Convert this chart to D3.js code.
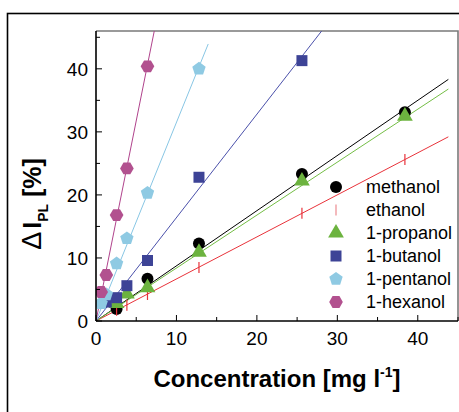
<!DOCTYPE html>
<html>
<head>
<meta charset="utf-8">
<script src="https://cdn.jsdelivr.net/npm/d3@7"></script>
<style>
  html, body { margin: 0; padding: 0; background: #fff; }
  svg { display: block; }
  text { font-family: "Liberation Sans", Arial, Helvetica, sans-serif; }
</style>
</head>
<body>
<svg id="chart" width="459" height="412"></svg>
<script>
// ---- data ----
const seriesNames = ["methanol", "ethanol", "1-propanol", "1-butanol", "1-pentanol", "1-hexanol"];
const methanolX = [2.56, 6.4, 12.8, 25.6, 38.4];
const methanolY = [1.9, 6.7, 12.3, 23.3, 33.1];
const ethanolX = [2.56, 3.84, 6.4, 12.8, 25.6, 38.4];
const ethanolY = [1.7, 2.5, 4.2, 8.5, 17.1, 25.6];
const propanolX = [2.56, 3.84, 6.4, 12.8, 25.6, 38.4];
const propanolY = [2.8, 4.3, 5.3, 10.9, 22.2, 32.5];
const butanolX = [1.28, 2.56, 3.84, 6.4, 12.8, 25.6];
const butanolY = [3.0, 3.7, 5.6, 9.6, 22.8, 41.3];
const pentanolX = [0.64, 1.28, 2.56, 3.84, 6.4, 12.8];
const pentanolY = [2.8, 4.2, 9.1, 13.1, 20.3, 40.0];
const hexanolX = [0.64, 1.28, 2.56, 3.84, 6.4];
const hexanolY = [4.6, 7.3, 16.8, 24.2, 40.4];
// linear fits through origin: slope and x where drawn line ends
const fitSlopes = [0.875, 0.667, 0.84, 1.64, 3.15, 6.35];
const fitEndX = [43.8, 43.8, 43.8, 28.05, 13.95, 7.25];
const xTicks = [0, 10, 20, 30, 40];
const yTicks = [0, 10, 20, 30, 40];

// ---- styles ----
const markerColors = ["#000000", "#e8323a", "#6cb33f", "#3d4396", "#8fcae3", "#b2518f"];
const lineColors = ["#000000", "#e8323a", "#74bd45", "#4a50aa", "#88c6e4", "#b0438c"];
const legendColors = ["#000000", "#ec8a8f", "#6cb33f", "#3d4396", "#8fcae3", "#b2518f"];
const markerTypes = ["circle", "tick", "triangle", "square", "pentagon", "hexagon"];

const series = [
  [methanolX, methanolY], [ethanolX, ethanolY], [propanolX, propanolY],
  [butanolX, butanolY], [pentanolX, pentanolY], [hexanolX, hexanolY]
];

const svg = d3.select("#chart");
const L = 96, R = 458, T = 31, B = 321;
const x = d3.scaleLinear().domain([0, 45]).range([L, R]);
const y = d3.scaleLinear().domain([0, 46]).range([B, T]);

// outer frame
svg.append("rect").attr("x", 7.5).attr("y", 13.5).attr("width", 470).attr("height", 420)
  .attr("fill", "none").attr("stroke", "#000").attr("stroke-width", 1.6);

// plot frame top/right (gray)
svg.append("path")
  .attr("d", `M${L},${T}H${R}V${B}`)
  .attr("fill", "none").attr("stroke", "#7a7a7a").attr("stroke-width", 1.6);

// clip
svg.append("clipPath").attr("id", "clip").append("rect")
  .attr("x", L).attr("y", T).attr("width", R - L).attr("height", B - T);

const gPlot = svg.append("g").attr("clip-path", "url(#clip)");

// marker path generator
function markerPath(type, s) {
  if (type === "circle") return d3.symbol(d3.symbolCircle, Math.PI * s * s / 4)();
  if (type === "square") return d3.symbol(d3.symbolSquare, s * s)();
  if (type === "triangle") return d3.symbol(d3.symbolTriangle, s * s * 0.55)();
  if (type === "tick") return `M0,${-s / 2}V${s / 2}`;
  const n = type === "pentagon" ? 5 : 6;
  const r = s / 2 * (n === 5 ? 1.08 : 1.05);
  const off = n === 5 ? -Math.PI / 2 : 0;
  const pts = d3.range(n).map(i => {
    const a = off + i * 2 * Math.PI / n;
    return [r * Math.cos(a), r * Math.sin(a)];
  });
  return "M" + pts.map(p => p[0].toFixed(2) + "," + p[1].toFixed(2)).join("L") + "Z";
}
const markerSize = [12, 11, 14, 11, 13, 13];

// fit lines
fitSlopes.forEach((k, i) => {
  gPlot.append("path")
    .datum([0, fitEndX[i]])
    .attr("d", d3.line().x(d => x(d)).y(d => y(k * d)))
    .attr("fill", "none").attr("stroke", lineColors[i]).attr("stroke-width", 1);
});

// markers
series.forEach((s, i) => {
  const pts = s[0].map((v, j) => [v, s[1][j]]);
  const g = gPlot.append("g");
  g.selectAll("path").data(pts).enter().append("path")
    .attr("transform", d => `translate(${x(d[0])},${y(d[1])})`)
    .attr("d", markerPath(markerTypes[i], markerSize[i]))
    .attr("fill", markerTypes[i] === "tick" ? "none" : markerColors[i])
    .attr("stroke", markerTypes[i] === "tick" ? markerColors[i] : "none")
    .attr("stroke-width", 1.2);
});

// axes
const fontTick = 19;
const xAxis = svg.append("g");
xAxis.append("line").attr("x1", L).attr("x2", R).attr("y1", B).attr("y2", B)
  .attr("stroke", "#000").attr("stroke-width", 1.6);
d3.range(0, 46, 5).forEach(v => {
  const major = v % 10 === 0;
  xAxis.append("line").attr("x1", x(v)).attr("x2", x(v)).attr("y1", B).attr("y2", B - (major ? 6 : 4))
    .attr("stroke", "#000").attr("stroke-width", 1);
});
xAxis.selectAll("text").data(xTicks).enter().append("text")
  .attr("x", d => x(d)).attr("y", 345).attr("text-anchor", "middle")
  .attr("font-size", fontTick).text(d => d);

const yAxis = svg.append("g");
yAxis.append("line").attr("x1", L).attr("x2", L).attr("y1", T).attr("y2", B)
  .attr("stroke", "#000").attr("stroke-width", 1.6);
d3.range(0, 46, 5).forEach(v => {
  const major = v % 10 === 0;
  yAxis.append("line").attr("x1", L).attr("x2", L + (major ? 6 : 4)).attr("y1", y(v)).attr("y2", y(v))
    .attr("stroke", "#000").attr("stroke-width", 1);
});
yAxis.selectAll("text").data(yTicks).enter().append("text")
  .attr("x", 88).attr("y", d => y(d) + 7).attr("text-anchor", "end")
  .attr("font-size", fontTick).text(d => d);

// x title
const xt = svg.append("text").attr("x", 277).attr("y", 387).attr("text-anchor", "middle")
  .attr("font-size", 24).attr("font-weight", "bold");
xt.append("tspan").text("Concentration [mg l");
xt.append("tspan").attr("dy", -10).attr("font-size", 14).text("-1");
xt.append("tspan").attr("dy", 10).text("]");

// y title
const yt = svg.append("text").attr("transform", "translate(41,204) rotate(-90)")
  .attr("text-anchor", "middle").attr("font-size", 25).attr("font-weight", "bold");
yt.append("tspan").attr("font-weight", "normal").attr("font-size", 27).text("Δ");
yt.append("tspan").attr("dx", 3).text("I");
yt.append("tspan").attr("dy", 7).attr("font-size", 14).text("PL");
yt.append("tspan").attr("dy", -7).text(" [%]");

// legend
const leg = svg.append("g");
const legY0 = 187, legDy = 23;
seriesNames.forEach((name, i) => {
  const cy = legY0 + i * legDy;
  leg.append("path")
    .attr("transform", `translate(336,${cy})`)
    .attr("d", markerPath(markerTypes[i], markerSize[i]))
    .attr("fill", markerTypes[i] === "tick" ? "none" : legendColors[i])
    .attr("stroke", markerTypes[i] === "tick" ? legendColors[i] : "none")
    .attr("stroke-width", 1.2);
  leg.append("text").attr("x", 366).attr("y", cy + 6).attr("font-size", 18).text(name);
});
</script>
</body>
</html>
